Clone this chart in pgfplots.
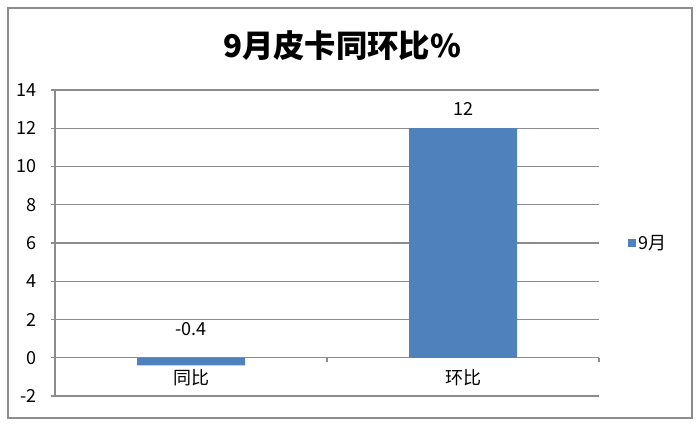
\documentclass[border=0pt]{standalone}
\usepackage{fontspec}
\setmainfont{Noto Sans CJK SC}
\usepackage{pgfplots}
\pgfplotsset{compat=1.18}
\definecolor{barblue}{HTML}{4F81BD}
\definecolor{gridgray}{HTML}{8C8C8C}
\begin{document}
\begin{tikzpicture}[x=0.75pt,y=0.75pt]
\useasboundingbox (-55,-29) rectangle (644,396);
\draw[gridgray, line width=1.1pt] (-47,-22) rectangle (637,388);
\node[font=\bfseries\fontsize{23.5}{28}\selectfont] at (287,350) {9月皮卡同环比\%};
\begin{axis}[
  at={(0,0)}, anchor=south west,
  scale only axis, width=408pt, height=229.5pt,
  xmin=-0.5, xmax=1.5, ymin=-2, ymax=14,
  ytick={-2,0,...,14},
  xtick={0,1}, xticklabels={同比,环比},
  axis y line*=left, axis x line*=middle,
  x axis line style={-, gridgray, line width=0.9pt},
  y axis line style={-, gridgray, line width=0.9pt},
  ymajorgrids, grid style={gridgray, line width=0.9pt},
  major x tick style={draw=none},
  ytick style={gridgray, line width=0.9pt},
  tick align=outside, major tick length=3pt,
  extra x ticks={0.5,1.5}, extra x tick labels={},
  extra x tick style={major x tick style={draw=gridgray, line width=0.9pt}, tick align=outside, major tick length=3pt, grid=none},
  tick label style={font=\fontsize{13.5}{16}\selectfont},
  yticklabel style={xshift=-7pt},
  xticklabel style={yshift=-2.5pt},
  /pgf/number format/assume math mode=true,
  ybar, bar width=81pt,
  nodes near coords,
  visualization depends on={rawy \as \rawy},
  nodes near coords align={anchor=south},
  every node near coord/.append style={font=\fontsize{13.5}{16}\selectfont, inner sep=0pt, yshift={ifthenelse(\rawy<0,21.75,9.4)*1pt}},
  legend style={at={(1.045,0.5)}, anchor=west, draw=none, fill=none, font=\fontsize{13.5}{16}\selectfont},
  legend image code/.code={\fill[#1] (0pt,-3.2pt) rectangle (6.4pt,3.2pt);},
]
\addplot[fill=barblue, draw=none] coordinates {(0,-0.4) (1,12)};
\addlegendentry{9月}
\end{axis}
\end{tikzpicture}
\end{document}
